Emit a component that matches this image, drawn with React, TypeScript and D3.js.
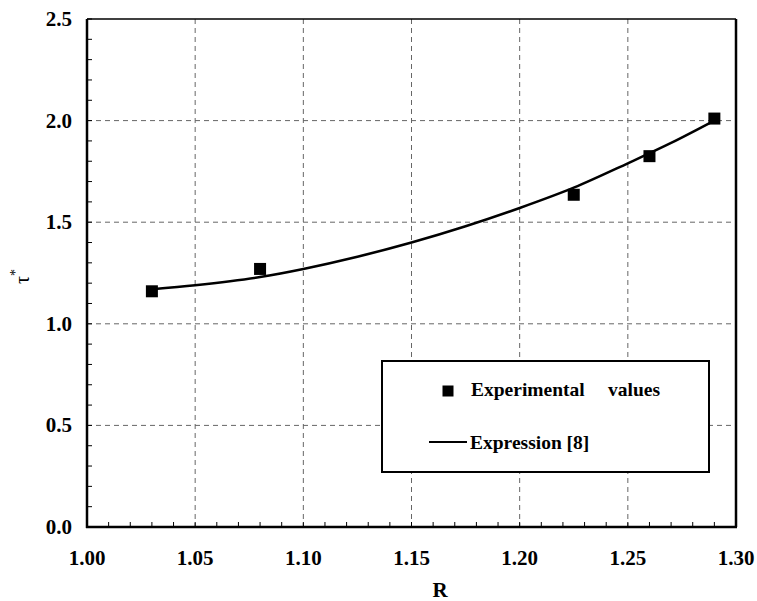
import React from "react";
import * as d3 from "d3";

const expR = [1.03, 1.08, 1.225, 1.26, 1.29];
const expTau = [1.16, 1.27, 1.635, 1.825, 2.01];

const curveR = [1.03, 1.05, 1.08, 1.1, 1.125, 1.15, 1.175, 1.2, 1.225, 1.25, 1.27, 1.29];
const curveTau = [1.17, 1.19, 1.23, 1.27, 1.33, 1.40, 1.48, 1.57, 1.67, 1.79, 1.89, 2.0];

const xTicks = [1.0, 1.05, 1.1, 1.15, 1.2, 1.25, 1.3];
const yTicks = [0, 0.5, 1.0, 1.5, 2.0, 2.5];

const W = 757;
const H = 601;
const L = 87, R = 736, T = 19, B = 527;

export default function App() {
  const x = d3.scaleLinear().domain([1.0, 1.3]).range([L, R]);
  const y = d3.scaleLinear().domain([0, 2.5]).range([B, T]);
  const xMinor = d3.range(0, 31).map((i) => 1.0 + i * 0.01);
  const yMinor = d3.range(0, 26).map((i) => i * 0.1);
  const line = d3
    .line<number>()
    .x((_, i) => x(curveR[i]))
    .y((d) => y(d))
    .curve(d3.curveMonotoneX);
  const fs = { fontFamily: '"Liberation Serif", "Times New Roman", serif' };
  const sq = 12;
  return (
    <svg
      width={W}
      height={H}
      style={{ position: "absolute", left: 0, top: 0, background: "#fff" }}
    >
      <rect x={0} y={0} width={W} height={H} fill="#fff" />
      {/* grid */}
      {xTicks.slice(1, -1).map((t) => (
        <line key={"gx" + t} x1={x(t)} x2={x(t)} y1={T} y2={B} stroke="#666" strokeWidth={1} strokeDasharray="5,4" />
      ))}
      {yTicks.slice(1, -1).map((t) => (
        <line key={"gy" + t} x1={L} x2={R} y1={y(t)} y2={y(t)} stroke="#666" strokeWidth={1} strokeDasharray="5,4" />
      ))}
      {/* minor ticks */}
      {xMinor.map((t, i) => (
        <line key={"mx" + i} x1={x(t)} x2={x(t)} y1={B} y2={B - 5} stroke="#000" strokeWidth={1} />
      ))}
      {yMinor.map((t, i) => (
        <line key={"my" + i} x1={L} x2={L + 5} y1={y(t)} y2={y(t)} stroke="#000" strokeWidth={1} />
      ))}
      {/* frame */}
      <line x1={L} x2={R} y1={T} y2={T} stroke="#000" strokeWidth={1.5} />
      <line x1={R} x2={R} y1={T} y2={B} stroke="#000" strokeWidth={2.5} />
      <line x1={L} x2={L} y1={T} y2={B + 1} stroke="#000" strokeWidth={2.5} />
      <line x1={L - 1} x2={R + 1} y1={B} y2={B} stroke="#000" strokeWidth={2.5} />
      {/* tick labels */}
      {xTicks.map((t) => (
        <text key={"xl" + t} x={x(t)} y={565} textAnchor="middle" fontSize={21} fontWeight="bold" style={fs}>
          {t.toFixed(2)}
        </text>
      ))}
      {yTicks.map((t) => (
        <text key={"yl" + t} x={72} y={y(t) + 7} textAnchor="end" fontSize={21} fontWeight="bold" style={fs}>
          {t.toFixed(1)}
        </text>
      ))}
      {/* axis titles */}
      <text x={440} y={597} textAnchor="middle" fontSize={21} fontWeight="bold" style={fs}>R</text>
      <text transform="translate(29,284) rotate(-90)" fontSize={20} style={fs}>
        τ<tspan dy={-9} fontSize={14}>*</tspan>
      </text>
      {/* curve */}
      <path d={line(curveTau) || ""} fill="none" stroke="#000" strokeWidth={2.5} />
      {/* points */}
      {expR.map((r, i) => (
        <rect key={"p" + i} x={x(r) - sq / 2} y={y(expTau[i]) - sq / 2} width={sq} height={sq} fill="#000" />
      ))}
      {/* legend */}
      <rect x={382} y={361} width={327} height={111} fill="#fff" stroke="#000" strokeWidth={2} />
      <rect x={448 - 5.5} y={391 - 5.5} width={11} height={11} fill="#000" />
      <text x={471} y={396} fontSize={19.5} fontWeight="bold" style={fs}>Experimental</text>
      <text x={608} y={396} fontSize={19.5} fontWeight="bold" style={fs}>values</text>
      <line x1={429} x2={467} y1={442} y2={442} stroke="#000" strokeWidth={2} />
      <text x={470} y={449} fontSize={19.5} fontWeight="bold" style={fs}>Expression [8]</text>
    </svg>
  );
}
